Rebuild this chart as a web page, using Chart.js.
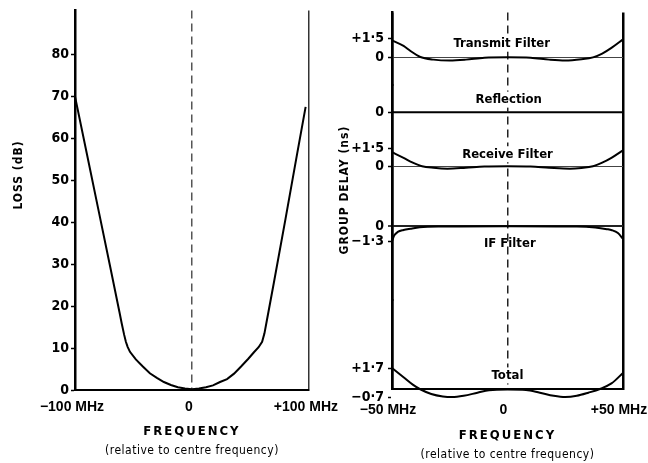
<!DOCTYPE html>
<html>
<head>
<meta charset="utf-8">
<script src="https://cdn.jsdelivr.net/npm/chart.js@4.4.1/dist/chart.umd.min.js"></script>
<style>
  html, body { margin: 0; padding: 0; background: #fff; }
  #wrap { position: relative; width: 648px; height: 463px; overflow: hidden; background: #fff; }
  #loss { position: absolute; left: 0; top: 0; }
  #delay { position: absolute; left: 330px; top: 0; }
</style>
</head>
<body>
<div id="wrap">
  <canvas id="loss" width="350" height="463"></canvas>
  <canvas id="delay" width="335" height="463"></canvas>
</div>
<script>
// ---- Loss versus frequency ----
const lossFreq = [-100, -90, -80, -70, -62, -60, -58, -56.5, -55, -53, -48, -42, -36, -30, -24, -18, -12, -6, 0, 6, 12, 18, 24, 30, 36, 42, 48, 53, 57, 60, 62, 64, 70, 80, 90, 97.2];
const lossDb   = [70, 56.5, 43, 29.5, 18.6, 15.8, 13.2, 11.5, 10.3, 9.1, 7.3, 5.6, 4, 2.9, 1.9, 1.2, 0.65, 0.35, 0.2, 0.35, 0.65, 1.1, 1.9, 2.6, 3.9, 5.6, 7.4, 9, 10.2, 11.5, 13.5, 16.5, 25.5, 40.8, 56.4, 67.5];
const lossTicks = [0, 10, 20, 30, 40, 50, 60, 70, 80];
const lossFreqTicks = [-100, 0, 100];
const lossFreqLabels = ['\u2212100 MHz', '0', '+100 MHz'];

// ---- Group delay versus frequency (ns) ----
const transmitFreq  = [-50, -45, -42, -38, -32, -25, -18, -10, 0, 10, 18, 25, 32, 37, 41, 45, 50];
const transmitDelay = [1.34, 0.9, 0.5, 0.05, -0.18, -0.25, -0.18, -0.03, 0, -0.03, -0.18, -0.25, -0.15, 0, 0.3, 0.75, 1.42];
const reflectionFreq  = [-50, 50];
const reflectionDelay = [0, 0];
const receiveFreq  = [-50, -45, -41, -37, -32, -26, -18, -10, 0, 10, 18, 27, 32, 37, 41, 45, 50];
const receiveDelay = [1.17, 0.7, 0.3, 0, -0.13, -0.2, -0.12, -0.02, 0, -0.02, -0.12, -0.2, -0.14, 0, 0.3, 0.7, 1.33];
const ifFreq  = [-50, -49, -47.5, -45, -42, -38, -30, 0, 30, 38, 43, 45.2, 47.8, 50];
const ifDelay = [-1.3, -0.8, -0.5, -0.33, -0.22, -0.1, -0.03, 0, -0.03, -0.12, -0.26, -0.35, -0.6, -1.1];
const totalFreq  = [-50, -45, -41, -38, -33, -28, -24, -19, -13, -8, 0, 8, 14, 20, 25, 30, 35, 40, 45, 50];
const totalDelay = [1.7, 0.95, 0.35, 0, -0.4, -0.6, -0.65, -0.55, -0.3, -0.1, -0.05, -0.08, -0.3, -0.55, -0.65, -0.55, -0.3, 0, 0.45, 1.3];

const delayFreqTicks = [-50, 0, 50];
const delayFreqLabels = ['\u221250 MHz', '0', '+50 MHz'];
const transmitTicks = [0, 1.5];
const transmitTickLabels = ['0', '+1\u00b75'];
const reflectionTicks = [0];
const reflectionTickLabels = ['0'];
const receiveTicks = [0, 1.5];
const receiveTickLabels = ['0', '+1\u00b75'];
const ifTicks = [0, -1.3];
const ifTickLabels = ['0', '\u22121\u00b73'];
const totalTicks = [-0.7, 1.7];
const totalTickLabels = ['\u22120\u00b77', '+1\u00b77'];

const FONT = "'DejaVu Sans Condensed', 'Liberation Sans Narrow', 'Liberation Sans', sans-serif";
const FONT_X = "'Liberation Sans', Arial, sans-serif";
Chart.defaults.font.family = FONT;
Chart.defaults.color = '#000';

const pts = (xs, ys) => xs.map((x, i) => ({ x, y: ys[i] }));
const fixedTicks = (vals) => (s) => { s.ticks = vals.map(v => ({ value: v })); };
const labelFor = (vals, labels) => (v) => {
  const i = vals.findIndex(t => Math.abs(t - v) < 1e-9);
  return i < 0 ? '' : labels[i];
};

// Draws free text (titles, curve names) on the canvas
function textPlugin(items) {
  return {
    id: 'freeText',
    afterDatasetsDraw(chart) {
      const ctx = chart.ctx;
      items.forEach(it => {
        ctx.save();
        ctx.font = it.font;
        ctx.textAlign = 'center';
        ctx.textBaseline = 'middle';
        if (it.spacing) ctx.letterSpacing = it.spacing;
        const x = it.x !== undefined ? chart.scales.x.getPixelForValue(it.x) : it.px;
        const y = it.axis ? chart.scales[it.axis].getPixelForValue(it.y) : it.py;
        ctx.translate(x, y);
        if (it.rotate) ctx.rotate(it.rotate);
        if (it.bg) {
          const w = ctx.measureText(it.text).width;
          ctx.fillStyle = '#fff';
          ctx.fillRect(-w / 2 - 2, -8, w + 4, 16);
        }
        ctx.fillStyle = '#000';
        ctx.fillText(it.text, 0, 0);
        ctx.restore();
      });
    }
  };
}

const tickFont = { size: 14, weight: 'bold' };
const xTickFont = { family: FONT_X, size: 14, weight: 'bold' };
const curve = (data, axis, smooth) => ({
  data, yAxisID: axis, xAxisID: 'x',
  borderColor: '#000', borderWidth: 2, pointRadius: 0,
  cubicInterpolationMode: smooth ? 'monotone' : 'default', tension: 0,
  fill: false, clip: false
});

// ---- Left chart: loss ----
new Chart(document.getElementById('loss'), {
  type: 'line',
  data: { datasets: [curve(pts(lossFreq, lossDb), 'y', false)] },
  options: {
    responsive: false, animation: false,
    layout: { padding: { top: 8, right: 40, bottom: 0, left: 0 } },
    plugins: { legend: { display: false }, tooltip: { enabled: false } },
    scales: {
      x: {
        type: 'linear', min: -100, max: 100,
        afterBuildTicks: fixedTicks(lossFreqTicks),
        afterFit: s => { s.height = 73; },
        ticks: { callback: labelFor(lossFreqTicks, lossFreqLabels), font: xTickFont, padding: 9, labelOffset: -3, autoSkip: false, maxRotation: 0 },
        grid: {
          drawTicks: false,
          color: c => c.tick && c.tick.value === 0 ? '#555' : (c.tick && c.tick.value === 100 ? '#333' : 'rgba(0,0,0,0)'),
          lineWidth: 1.5
        },
        border: { color: '#000', width: 2, dash: c => c.tick && c.tick.value === 0 ? [8, 5] : [] }
      },
      y: {
        type: 'linear', min: 0, max: 90.5,
        afterBuildTicks: fixedTicks(lossTicks),
        afterFit: s => { s.width = 75; },
        ticks: { font: tickFont, padding: 2, autoSkip: false },
        grid: { drawOnChartArea: false, tickColor: '#000', tickLength: 4, tickWidth: 1.5 },
        border: { color: '#000', width: 2.5 }
      }
    }
  },
  plugins: [textPlugin([
    { text: 'LOSS (dB)', font: 'bold 12px ' + FONT, spacing: '1px', px: 19, py: 175, rotate: -Math.PI / 2 },
    { text: 'FREQUENCY', font: 'bold 13px ' + FONT, spacing: '2px', x: 0, py: 432 },
    { text: '(relative to centre frequency)', font: '12px ' + FONT, spacing: '0.5px', x: 0, py: 451 }
  ])]
});

// ---- Right chart: group delay, one stacked axis per curve ----
const stacked = (weight, min, max, vals, labels, gridColor, gridWidth) => ({
  type: 'linear', position: 'left', stack: 'delay', stackWeight: weight, offset: false,
  min, max,
  afterBuildTicks: fixedTicks(vals),
  afterFit: s => { s.width = 62; },
  ticks: { callback: labelFor(vals, labels), font: tickFont, padding: 4, autoSkip: false },
  grid: {
    color: c => c.tick && c.tick.value === 0 ? gridColor : 'rgba(0,0,0,0)',
    lineWidth: c => c.tick && c.tick.value === 0 ? gridWidth : 1,
    tickColor: '#000', tickLength: 4, tickWidth: 1.5
  },
  border: { color: '#000', width: 2.5 }
});

new Chart(document.getElementById('delay'), {
  type: 'line',
  data: {
    datasets: [
      curve(pts(transmitFreq, transmitDelay), 'yTx', true),
      curve(pts(reflectionFreq, reflectionDelay), 'yRefl', true),
      curve(pts(receiveFreq, receiveDelay), 'yRx', true),
      curve(pts(ifFreq, ifDelay), 'yIF', true),
      curve(pts(totalFreq, totalDelay), 'yTot', true)
    ]
  },
  options: {
    responsive: false, animation: false,
    layout: { padding: { top: 12, right: 42, bottom: 0, left: 0 } },
    plugins: { legend: { display: false }, tooltip: { enabled: false } },
    scales: {
      x: {
        type: 'linear', min: -50, max: 50,
        afterBuildTicks: fixedTicks(delayFreqTicks),
        afterFit: s => { s.height = 74; },
        ticks: { callback: labelFor(delayFreqTicks, delayFreqLabels), font: xTickFont, padding: 13, labelOffset: -4, autoSkip: false, maxRotation: 0 },
        grid: {
          drawTicks: false,
          color: c => c.tick && c.tick.value === 0 ? '#222' : '#000',
          lineWidth: c => c.tick && c.tick.value === 0 ? 1.5 : 2.5
        },
        border: { color: '#000', width: 2, dash: c => c.tick && c.tick.value === 0 ? [8, 5] : [] }
      },
      // listed bottom to top
      yTot: stacked(89, 0, 7.2, totalTicks, totalTickLabels, 'rgba(0,0,0,0)', 1),
      yIF: stacked(74, -6.43, 0, ifTicks, ifTickLabels, '#222', 2),
      yRx: stacked(114, -5, 4.5, receiveTicks, receiveTickLabels, '#444', 1),
      yRefl: stacked(27, 0, 2.13, reflectionTicks, reflectionTickLabels, 'rgba(0,0,0,0)', 1),
      yTx: stacked(73, -2.21, 3.55, transmitTicks, transmitTickLabels, '#444', 1)
    }
  },
  plugins: [textPlugin([
    { text: 'Transmit Filter', font: 'bold 13px ' + FONT, x: -2.5, axis: 'yTx', y: 1.1, bg: true },
    { text: 'Reflection', font: 'bold 13px ' + FONT, x: 0.5, axis: 'yRefl', y: 1.0, bg: true },
    { text: 'Receive Filter', font: 'bold 13px ' + FONT, x: 0, axis: 'yRx', y: 1.0, bg: true },
    { text: 'IF Filter', font: 'bold 13px ' + FONT, x: 1, axis: 'yIF', y: -1.5 },
    { text: 'Total', font: 'bold 13px ' + FONT, x: 0, axis: 'yTot', y: 1.1, bg: true },
    { text: 'GROUP DELAY (ns)', font: 'bold 12px ' + FONT, spacing: '1px', px: 15, py: 190, rotate: -Math.PI / 2 },
    { text: 'FREQUENCY', font: 'bold 13px ' + FONT, spacing: '2px', x: 0, py: 436 },
    { text: '(relative to centre frequency)', font: '12px ' + FONT, spacing: '0.5px', x: 0, py: 455 }
  ])]
});
</script>
</body>
</html>
